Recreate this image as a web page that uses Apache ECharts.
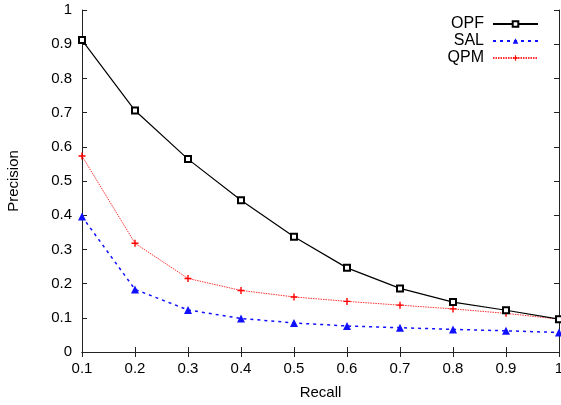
<!DOCTYPE html>
<html><head><meta charset="utf-8">
<script src="https://cdn.jsdelivr.net/npm/echarts@6/dist/echarts.min.js"></script>
<style>html,body{margin:0;padding:0;background:#fff}#c{width:561px;height:405px}</style>
</head><body><div id="c"></div>
<script>
const recall = [0.1,0.2,0.3,0.4,0.5,0.6,0.7,0.8,0.9,1.0];
const opf = [0.912,0.706,0.564,0.444,0.337,0.246,0.186,0.146,0.122,0.096];
const sal = [0.396,0.183,0.123,0.098,0.085,0.076,0.071,0.066,0.062,0.057];
const qpm = [0.573,0.318,0.215,0.180,0.161,0.148,0.137,0.126,0.113,0.096];
const pairs = a => recall.map((r,i)=>[r,a[i]]);
const font = 'Liberation Sans, Arial, sans-serif';
const fmt = v => String(Math.round(v*10)/10);
const chart = echarts.init(document.getElementById('c'));
const axColor = '#222';
const tick = {show:true, inside:true, length:5, lineStyle:{color:axColor}};
const axLine = {show:true, lineStyle:{color:axColor, width:1}};
chart.setOption({
  animation:false,
  grid:{left:82, right:2, top:10, bottom:53, containLabel:false, outerBoundsMode:'none'},
  legend:{
    orient:'vertical', right:17, top:11, align:'right',
    itemWidth:45, itemHeight:7, itemGap:1,
    textStyle:{fontFamily:font, fontSize:16, color:'#000', padding:[0,4,0,0]},
    data:['OPF','SAL','QPM']
  },
  xAxis:[{
    type:'value', min:0.1, max:1, interval:0.1,
    name:'Recall', nameLocation:'middle', nameGap:33,
    nameTextStyle:{fontFamily:font, fontSize:15, color:'#000'},
    axisLine:axLine, axisTick:tick, splitLine:{show:false},
    axisLabel:{fontFamily:font, fontSize:15, color:'#000', margin:9, formatter:fmt}
  },{
    type:'value', position:'top', min:0.1, max:1, interval:0.1,
    axisLine:axLine, axisTick:tick, splitLine:{show:false}, axisLabel:{show:false}
  }],
  yAxis:[{
    type:'value', min:0, max:1, interval:0.1,
    name:'Precision', nameLocation:'middle', nameGap:61,
    nameTextStyle:{fontFamily:font, fontSize:15, color:'#000'},
    axisLine:axLine, axisTick:tick, splitLine:{show:false},
    axisLabel:{fontFamily:font, fontSize:15, color:'#000', margin:10, formatter:fmt}
  },{
    type:'value', position:'right', min:0, max:1, interval:0.1,
    axisLine:axLine, axisTick:tick, splitLine:{show:false}, axisLabel:{show:false}
  }],
  series:[
    {name:'OPF', type:'line', data:pairs(opf), symbol:'emptyRect', symbolSize:6,
     lineStyle:{color:'#000', width:1.2}, itemStyle:{color:'#000', borderWidth:1}, z:3},
    {name:'SAL', type:'line', data:pairs(sal), symbol:'triangle', symbolSize:8,
     lineStyle:{color:'#1010ff', width:1.5, type:[3,4]}, itemStyle:{color:'#1010ff'}, z:2},
    {name:'QPM', type:'line', data:pairs(qpm),
     symbol:'path://M4,0H6V4H10V6H6V10H4V6H0V4H4Z', symbolSize:7,
     lineStyle:{color:'#ff3030', width:1, type:[1.5,1]}, itemStyle:{color:'#ff0000'}, z:2}
  ]
});
</script></body></html>
